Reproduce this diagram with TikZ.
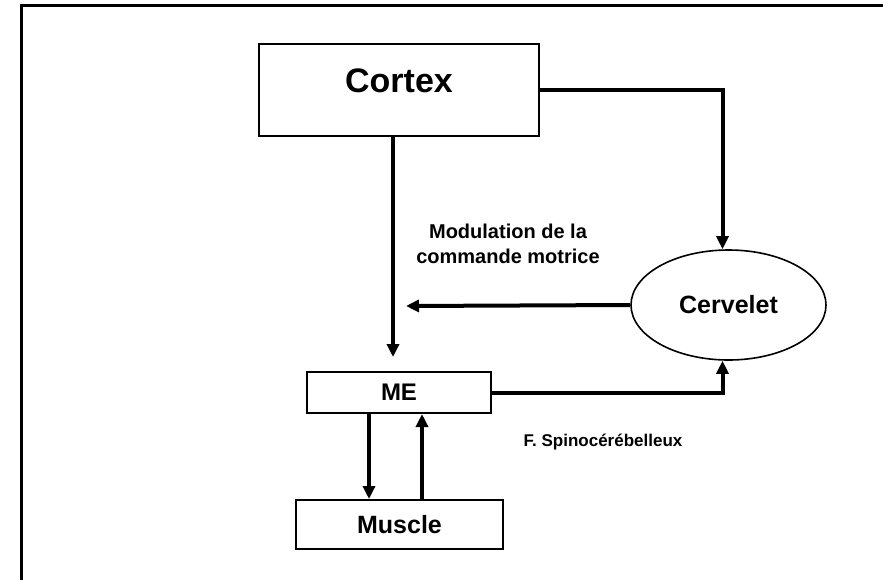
\documentclass[tikz,border=0pt]{standalone}
\usepackage{fontspec}
\setmainfont{Liberation Sans}
\usetikzlibrary{shapes.geometric,arrows.meta}

\begin{document}
\begin{tikzpicture}[x=1pt,y=-1pt,>={Triangle[length=13pt,width=12pt]},
    box/.style={draw,line width=2pt,inner sep=0pt},
    fleche/.style={->,line width=4pt},
    txt/.style={font=\bfseries\fontsize{#1}{#1}\selectfont}]
    \useasboundingbox (0,0) rectangle (883,579);

    % draw the frame
    \draw[line width=3pt] (21,582) -- (21,5) -- (886,5);

    % draw the boxes
    \node[box,minimum width=280pt,minimum height=92pt,
          label={[txt=34,yshift=9pt]center:Cortex}] (cortex) at (399,90) {};
    \node[box,minimum width=184pt,minimum height=41pt,txt=24] (me) at (399,392.5) {ME};
    \node[box,minimum width=207pt,minimum height=49pt,txt=25] (muscle) at (399.5,524.5) {Muscle};
    \node[draw,ellipse,line width=1.6pt,inner sep=0pt,minimum width=195pt,
          minimum height=110pt,txt=25] (cervelet) at (728.5,305) {Cervelet};

    \coordinate (modtip) at (406,306);

    % draw the connections
    \draw[fleche] ([xshift=-6pt]cortex.south) -- ([xshift=-6pt,yshift=14pt]me.north);
    \draw[fleche] (cortex.east) -| ([xshift=-6pt]cervelet.north);
    \draw[fleche] (cervelet.west) -- (modtip);
    \draw[fleche] (me.east) -| ([xshift=-6pt]cervelet.south);
    \draw[fleche] ([xshift=-30pt]me.south) -- ([xshift=-30.5pt]muscle.north);
    \draw[fleche] ([xshift=22.5pt]muscle.north) -- ([xshift=23pt]me.south);

    % draw the labels
    \node[txt=20,align=center,font=\bfseries\fontsize{20}{25}\selectfont] (modulation) at (508,244)
        {Modulation de la\\commande motrice};
    \node[txt=17] (spino) at (603,442) {F. Spinocérébelleux};

\end{tikzpicture}
\end{document}
